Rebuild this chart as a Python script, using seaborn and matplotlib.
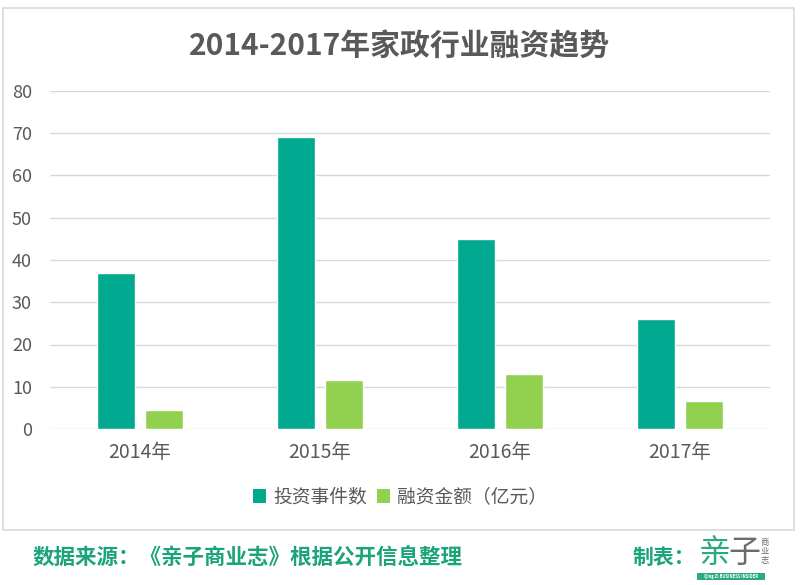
import matplotlib
matplotlib.use("Agg")
import matplotlib.pyplot as plt
import seaborn as sns
import pandas as pd
from matplotlib.patches import Rectangle, Patch

years = ["2014年", "2015年", "2016年", "2017年"]
series_names = ["投资事件数", "融资金额（亿元）"]
events = [37, 69, 45, 26]
amounts = [4.4, 11.6, 13.0, 6.6]
colors = ["#00A98F", "#92D050"]
yticks = [0, 10, 20, 30, 40, 50, 60, 70, 80]

sns.set_theme(style="white")
plt.rcParams['font.family'] = ['Noto Sans CJK SC', 'DejaVu Sans']

df = pd.DataFrame({
    "year": years * 2,
    "series": [series_names[0]] * 4 + [series_names[1]] * 4,
    "value": events + amounts,
})

fig = plt.figure(figsize=(8, 5.85), dpi=100)
ax = fig.add_axes([50 / 800, 1 - 429 / 585, 720 / 800, (429 - 91) / 585])

sns.barplot(data=df, x="year", y="value", hue="series", palette=colors,
            width=0.54, gap=0.22, ax=ax, legend=False, saturation=1)

ax.set_ylim(0, 80)
ax.set_xlim(-0.5, 3.5)
ax.set_yticks(yticks)
ax.set_xlabel("")
ax.set_ylabel("")
ax.yaxis.grid(True, color="#D9D9D9", linewidth=1)
ax.set_axisbelow(True)
for s in ax.spines.values():
    s.set_visible(False)
ax.tick_params(axis="y", length=0, pad=13, labelsize=13, labelcolor="#595959")
ax.tick_params(axis="x", length=0, pad=9, labelsize=14, labelcolor="#595959")

# legend
handles = [Patch(facecolor=c, edgecolor="none") for c in colors]
fig.legend(handles, series_names, loc="center", bbox_to_anchor=(0.5, 1 - 497 / 585),
           ncol=2, frameon=False, fontsize=13.5, labelcolor="#595959",
           handlelength=0.7, handleheight=0.7, handletextpad=0.4, columnspacing=0.5)

# title
fig.text(0.5, 1 - 46 / 585, "2014-2017年家政行业融资趋势", ha="center", va="center",
         fontsize=21.5, fontweight="bold", color="#595959")

# border around chart
fig.patches.append(Rectangle((3 / 800, 1 - 530 / 585), 791 / 800, 522 / 585,
                             transform=fig.transFigure, fill=False,
                             edgecolor="#D9D9D9", linewidth=1.2))

# footer
green = "#1BA37A"
fig.text(33 / 800, 1 - 558 / 585, "数据来源：《亲子商业志》根据公开信息整理",
         ha="left", va="center", fontsize=15.5, fontweight="bold", color=green)
fig.text(695 / 800, 1 - 557 / 585, "制表：", ha="right", va="center",
         fontsize=15, fontweight="bold", color=green)
fig.text(699 / 800, 1 - 553 / 585, "亲", ha="left", va="center",
         fontsize=23, fontweight="light", color="#2BAA7E")
fig.text(728 / 800, 1 - 553 / 585, "子", ha="left", va="center",
         fontsize=23, fontweight="light", color="#6B6B6B")
for i, ch in enumerate("商业志"):
    fig.text(765 / 800, 1 - (543 + i * 9) / 585, ch, ha="center", va="center",
             fontsize=6, color="#6B6B6B")
fig.patches.append(Rectangle((697 / 800, 1 - 580 / 585), 68 / 800, 7 / 585,
                             transform=fig.transFigure, facecolor="#2BAA7E",
                             edgecolor="none"))
fig.text(731 / 800, 1 - 576.5 / 585, "Qing Zi BUSINESS INSIDER", ha="center",
         va="center", fontsize=3, color="white", fontweight="bold")

fig.savefig("out.png", dpi=100, facecolor="white")
